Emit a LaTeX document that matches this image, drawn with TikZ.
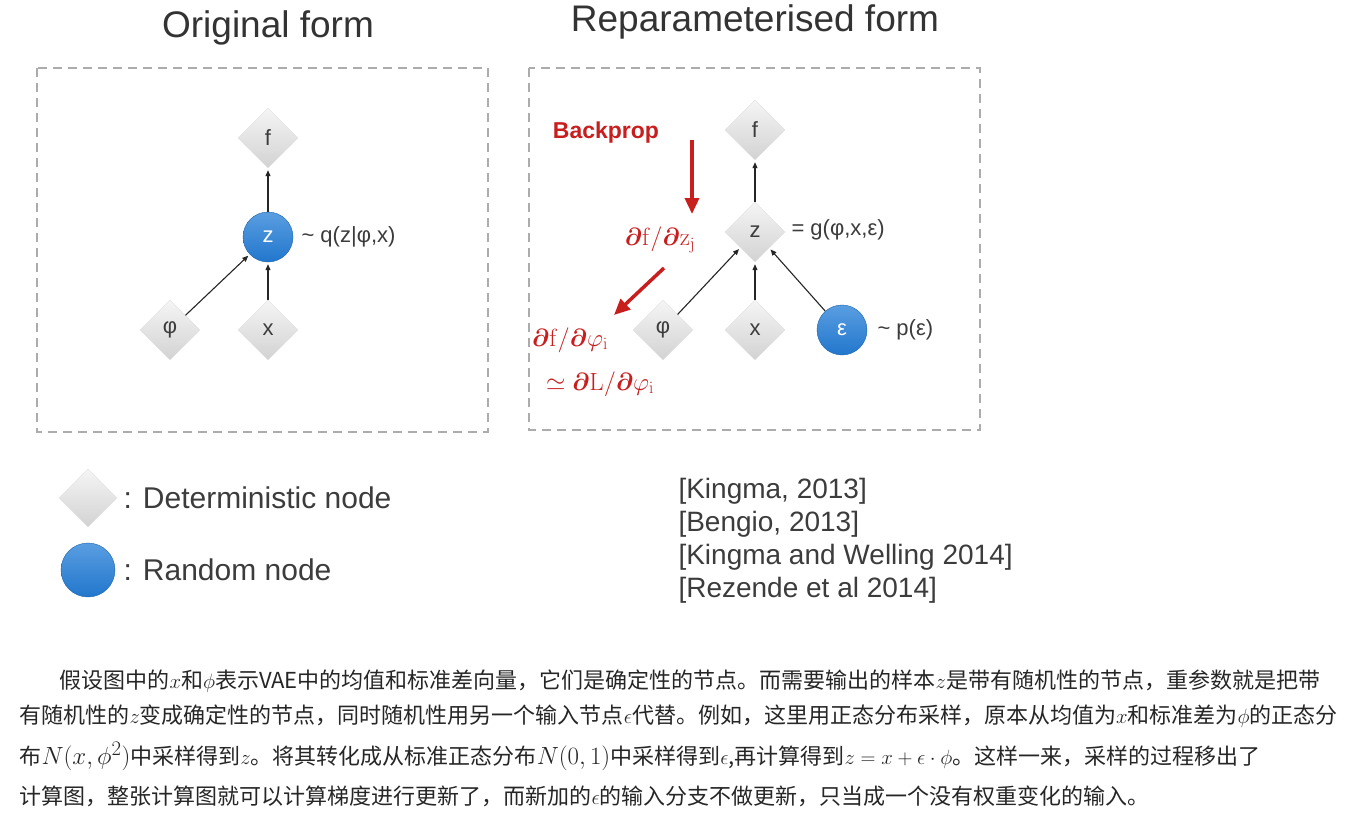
\documentclass[tikz,border=0pt]{standalone}
\usepackage{amsmath,bm}
\usepackage[no-math]{fontspec}
\setmainfont{Liberation Sans}
\newfontfamily\cjk{Noto Sans CJK SC}
\usetikzlibrary{shapes.geometric,arrows.meta}
\definecolor{bpred}{RGB}{200,30,30}
\definecolor{rnd}{RGB}{35,125,215}
\definecolor{txt}{RGB}{60,60,60}
\tikzset{
 det/.style={diamond,minimum width=60pt,minimum height=60pt,inner sep=0pt,top color=gray!8,bottom color=gray!35,draw=gray!25,text=txt,font=\fontsize{22}{22}\selectfont},
 rand/.style={circle,minimum size=50pt,inner sep=0pt,top color=rnd!75,bottom color=rnd!95!black,draw=rnd!80!black,text=white,font=\fontsize{22}{22}\selectfont},
 con/.style={-{Triangle[length=6pt,width=5pt]},line width=1.1pt,black!85,shorten >=2pt},
 bp/.style={-{Triangle[length=16pt,width=14pt]},line width=3.5pt,bpred},
 lab/.style={anchor=west,text=txt,font=\fontsize{22}{24}\selectfont},
 red/.style={text=bpred,font=\fontsize{23}{26}\selectfont\bfseries},
 rmath/.style={text=bpred,font=\fontsize{27}{28}\selectfont},
 box/.style={draw=gray!65,dash pattern=on 9pt off 6pt,line width=1.3pt},
 title/.style={text=black!80,font=\fontsize{37}{38}\selectfont},
 para/.style={anchor=west,font=\fontsize{22}{24}\cjk,text=black!85}
}
\begin{document}
\begin{tikzpicture}[x=1pt,y=-1pt]
\useasboundingbox (0,0) rectangle (1345,827);
\fill[white] (0,0) rectangle (1345,827);
% titles and boxes
\node[title] (t1) at (268,28) {Original form};
\node[title] (t2) at (755,22) {Reparameterised form};
\draw[box] (37,68) rectangle (488,432);
\draw[box] (529,68) rectangle (980,430);
% original
\node[det] (f1) at (268,138) {f};
\node[rand] (z1) at (268,237) {z};
\node[det] (p1) at (170,330) {φ};
\node[det] (x1) at (268,330) {x};
\node[lab] (q1) at (298,237) {\textasciitilde\ q(z|φ,x)};
\draw[con] (z1) -- (f1);
\draw[con] (p1) -- (z1);
\draw[con] (x1) -- (z1);
% reparameterised
\node[det] (f2) at (755,130) {f};
\node[det] (z2) at (755,232) {z};
\node[det] (p2) at (663,330) {φ};
\node[det] (x2) at (755,330) {x};
\node[rand] (e2) at (842,330) {ε};
\node[lab] (g2) at (788,230) {= g(φ,x,ε)};
\node[lab] (pe) at (874,330) {\textasciitilde\ p(ε)};
\draw[con] (z2) -- (f2);
\draw[con] (p2) -- (z2);
\draw[con] (x2) -- (z2);
\draw[con] (e2) -- (z2);
% backprop
\node[red] (bp) at (606,133) {Backprop};
\coordinate (a1s) at (692,140);
\coordinate (a1e) at (692,214);
\draw[bp] (a1s) -- (a1e);
\node[rmath] (dz) at (660,240) {$\bm{\partial}\mathrm{f}/\bm{\partial}\mathrm{z_j}$};
\coordinate (a2s) at (664,268);
\coordinate (a2e) at (614,315);
\draw[bp] (a2s) -- (a2e);
\node[rmath] (dp) at (570,340) {$\bm{\partial}\mathrm{f}/\bm{\partial}\varphi_{\mathrm{i}}$};
\node[rmath] (dl) at (600,384) {$\simeq\bm{\partial}\mathrm{L}/\bm{\partial}\varphi_{\mathrm{i}}$};
% legend
\node[det,minimum width=58pt,minimum height=58pt] (ld) at (88,498) {};
\node[lab,font=\fontsize{30}{32}\selectfont] (ldt) at (120,498) {: Deterministic node};
\node[rand,minimum size=54pt] (lr) at (88,570) {};
\node[lab,font=\fontsize{30}{32}\selectfont] (lrt) at (120,570) {: Random node};
% references
\node[lab,font=\fontsize{28}{30}\selectfont] (r1) at (675,491) {[Kingma, 2013]};
\node[lab,font=\fontsize{28}{30}\selectfont] (r2) at (675,524) {[Bengio, 2013]};
\node[lab,font=\fontsize{28}{30}\selectfont] (r3) at (675,557) {[Kingma and Welling 2014]};
\node[lab,font=\fontsize{28}{30}\selectfont] (r4) at (675,590) {[Rezende et al 2014]};
% paragraph
\node[para] (l1) at (56,681) {假设图中的$x$和$\phi$表示VAE中的均值和标准差向量，它们是确定性的节点。而需要输出的样本$z$是带有随机性的节点，重参数就是把带};
\node[para] (l2) at (16,716) {有随机性的$z$变成确定性的节点，同时随机性用另一个输入节点$\epsilon$代替。例如，这里用正态分布采样，原本从均值为$x$和标准差为$\phi$的正态分};
\node[para] (l3) at (16,756) {布{\fontsize{28}{28}\selectfont$N(x,\phi^2)$}中采样得到$z$。将其转化成从标准正态分布{\fontsize{28}{28}\selectfont$N(0,1)$}中采样得到$\epsilon$,再计算得到$z=x+\epsilon\cdot\phi$。这样一来，采样的过程移出了};
\node[para] (l4) at (16,796) {计算图，整张计算图就可以计算梯度进行更新了，而新加的$\epsilon$的输入分支不做更新，只当成一个没有权重变化的输入。};
\end{tikzpicture}
\end{document}
